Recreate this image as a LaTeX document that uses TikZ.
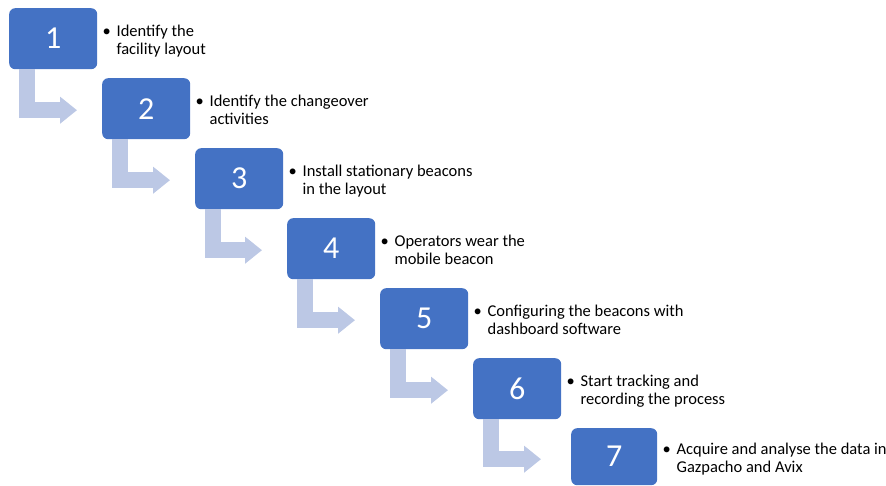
\documentclass[tikz,border=0pt]{standalone}
\usepackage{fontspec}
\setmainfont{Carlito}
\usetikzlibrary{arrows.meta,calc}

\definecolor{boxblue}{HTML}{4472C4}
\definecolor{flowarrow}{RGB}{188,200,229}

\tikzset{
  stepbox/.style={fill=boxblue, rounded corners=6pt, minimum width=88pt,
    minimum height=61pt, inner sep=0pt, anchor=north west, text=white,
    font=\fontsize{32}{36}\selectfont},
  steplabel/.style={anchor=north west, inner sep=0pt, align=left,
    font=\fontsize{16.5}{18}\selectfont},
  bentarrow/.style={draw=flowarrow, line width=16pt, line join=miter,
    -{Triangle[length=17pt,width=26pt]}},
}

% bullet item over two lines, second line indented under the first
\newcommand\bulletlines[2]{\makebox[14pt][l]{\strut\textbullet}#1\\\hspace*{14pt}\strut#2}

\begin{document}
\begin{tikzpicture}[x=1pt,y=-1pt]
\useasboundingbox (0,0) rectangle (886,486);

% numbered step boxes
\node[stepbox] (b1) at (9,8)     {1};
\node[stepbox] (b2) at (102,78)  {2};
\node[stepbox] (b3) at (195,148) {3};
\node[stepbox] (b4) at (287,218) {4};
\node[stepbox] (b5) at (380,288) {5};
\node[stepbox] (b6) at (473,358) {6};
\node[stepbox, minimum width=86pt, minimum height=57pt] (b7) at (571,428) {7};

% bent arrows leading down to the next step
\draw[bentarrow] ($(b1.south west)+(18,0)$) |- ($(b2.west)+(-25,1.5)$);
\draw[bentarrow] ($(b2.south west)+(18,0)$) |- ($(b3.west)+(-25,1.5)$);
\draw[bentarrow] ($(b3.south west)+(18,0)$) |- ($(b4.west)+(-25,1.5)$);
\draw[bentarrow] ($(b4.south west)+(18,0)$) |- ($(b5.west)+(-25,1.5)$);
\draw[bentarrow] ($(b5.south west)+(18,0)$) |- ($(b6.west)+(-25,1.5)$);
\draw[bentarrow] ($(b6.south west)+(18,0)$) |- ($(b7.west)+(-30,2.5)$);

% step descriptions
\node[steplabel] (t1) at ($(b1.north east)+(5,16)$) {\bulletlines{Identify the}{facility layout}};
\node[steplabel] (t2) at ($(b2.north east)+(5,16)$) {\bulletlines{Identify the changeover}{activities}};
\node[steplabel] (t3) at ($(b3.north east)+(5,16)$) {\bulletlines{Install stationary beacons}{in the layout}};
\node[steplabel] (t4) at ($(b4.north east)+(5,16)$) {\bulletlines{Operators wear the}{mobile beacon}};
\node[steplabel] (t5) at ($(b5.north east)+(5,16)$) {\bulletlines{Configuring the beacons with}{dashboard software}};
\node[steplabel] (t6) at ($(b6.north east)+(5,16)$) {\bulletlines{Start tracking and}{recording the process}};
\node[steplabel] (t7) at ($(b7.north east)+(5,14)$) {\bulletlines{Acquire and analyse the data in}{Gazpacho and Avix}};
\end{tikzpicture}
\end{document}
